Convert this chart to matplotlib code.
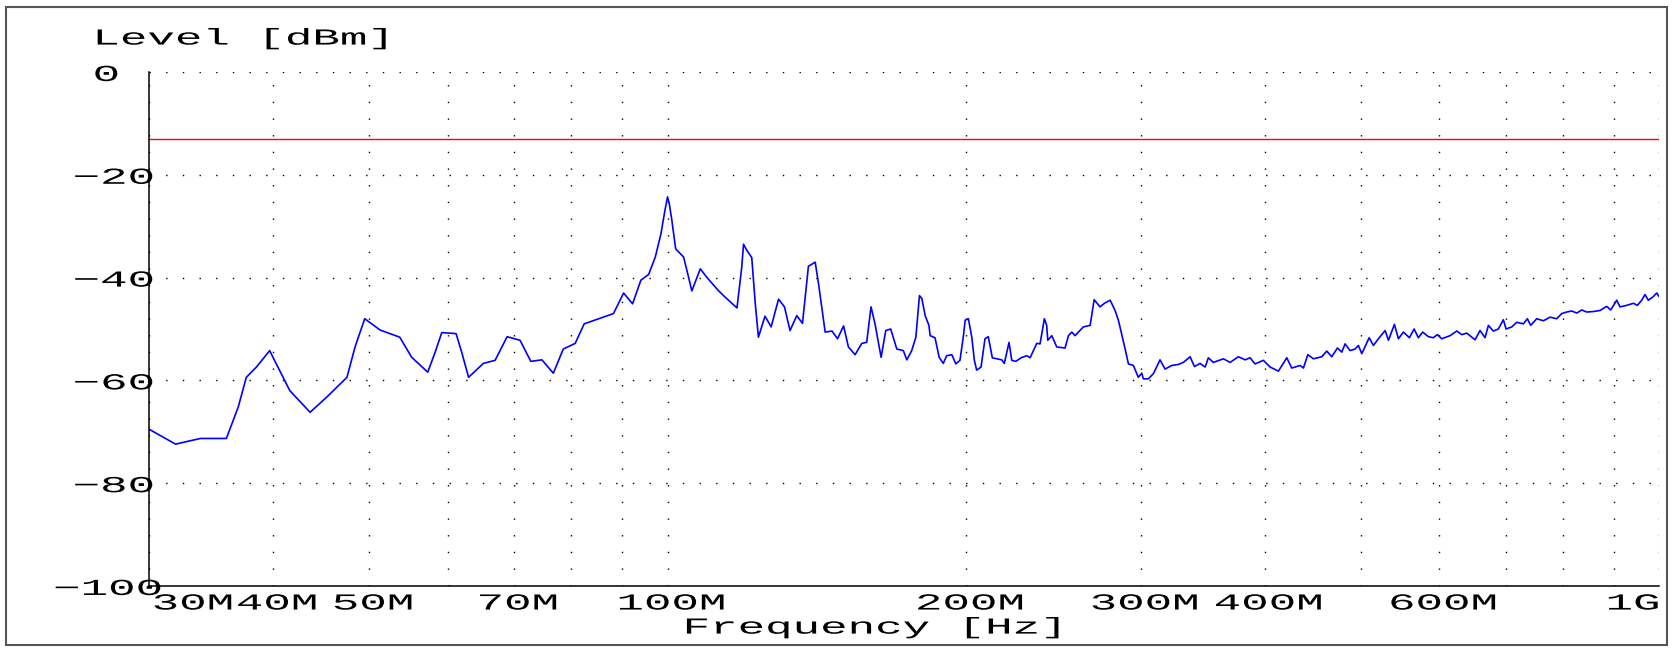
import matplotlib
matplotlib.use('Agg')
import matplotlib.pyplot as plt
import matplotlib.patheffects as pe
from matplotlib.patches import Rectangle
from matplotlib.ticker import FixedLocator, NullFormatter
from matplotlib.transforms import Affine2D

# Spectrum trace (frequency in MHz, level in dBm)
freq_mhz = [
    30.0, 31.9, 33.8, 35.9, 36.9, 37.6, 38.5, 39.7, 40.0, 41.6,
    43.6, 45.3, 47.5, 48.4, 49.5, 51.3, 53.7, 55.2, 57.3, 58.3,
    59.2, 61.2, 62.0, 63.0, 65.2, 67.0, 68.9, 71.0, 72.8, 74.7,
    76.7, 78.5, 80.7, 82.4, 88.2, 90.3, 92.2, 94.0, 95.7, 97.2,
    98.5, 99.4, 100.0, 100.4, 101.0, 101.9, 103.8, 105.0, 105.8, 107.9,
    109.5, 112.5, 114.3, 117.5, 118.8, 119.3, 120.2, 121.6, 122.6, 123.5,
    125.4, 127.2, 129.4, 131.2, 132.9, 135.0, 136.8, 138.7, 140.9, 142.0,
    144.2, 146.5, 148.4, 150.5, 152.2, 154.6, 157.0, 158.8, 160.4, 161.9,
    164.2, 166.0, 167.9, 170.3, 172.9, 174.3, 176.3, 178.0, 179.5, 180.5,
    181.9, 183.5, 184.0, 186.1, 187.9, 189.7, 191.2, 193.5, 195.3, 197.2,
    198.8, 199.6, 201.1, 202.7, 203.9, 205.0, 207.1, 209.0, 210.6, 212.6,
    214.8, 217.3, 218.6, 221.0, 222.4, 224.5, 227.3, 230.3, 232.1, 235.7,
    237.5, 239.9, 241.2, 241.8, 244.1, 246.9, 251.7, 253.7, 255.7, 257.6,
    262.6, 266.8, 269.3, 273.0, 275.8, 279.5, 282.7, 284.9, 289.4, 291.6,
    295.0, 298.4, 300.8, 301.9, 305.4, 309.0, 313.8, 317.5, 322.5, 327.5,
    331.3, 336.5, 339.9, 344.4, 348.5, 351.1, 355.2, 363.6, 369.3, 376.4,
    382.4, 386.8, 391.3, 398.9, 405.2, 413.1, 421.2, 426.1, 434.5, 437.8,
    442.3, 448.1, 456.9, 462.2, 467.6, 473.8, 478.6, 482.3, 487.9, 493.6,
    497.4, 501.4, 510.0, 515.1, 521.1, 529.3, 533.4, 540.8, 545.9, 552.2,
    560.0, 566.1, 571.8, 577.6, 585.2, 592.0, 597.5, 603.7, 615.4, 625.1,
    632.4, 639.8, 652.2, 659.8, 667.5, 672.7, 680.5, 688.5, 696.5, 700.9,
    710.2, 718.5, 729.6, 736.4, 742.2, 752.6, 764.3, 776.3, 788.4, 797.6,
    806.9, 816.4, 825.9, 835.5, 845.3, 858.3, 871.8, 885.5, 893.7, 906.3,
    913.2, 927.6, 941.9, 950.7, 960.4, 967.8, 975.3, 985.3, 994.5, 1000.0,
]
level_dbm = [
    -69.5, -72.4, -71.3, -71.3, -65.2, -59.4, -57.4, -54.2, -55.5, -62.0,
    -66.2, -63.3, -59.4, -53.5, -48.0, -50.2, -51.6, -55.5, -58.4, -54.5,
    -50.7, -50.9, -54.5, -59.4, -56.7, -56.1, -51.5, -52.2, -56.3, -56.0,
    -58.6, -53.9, -52.8, -49.0, -47.0, -43.0, -45.1, -40.5, -39.4, -36.0,
    -31.4, -26.9, -24.3, -25.6, -28.8, -34.4, -36.0, -39.9, -42.6, -38.3,
    -39.9, -42.5, -43.8, -45.9, -38.0, -33.5, -34.7, -36.1, -45.1, -51.6,
    -47.5, -49.6, -44.2, -45.7, -50.3, -47.4, -48.9, -37.8, -37.0, -41.2,
    -50.6, -50.4, -51.9, -49.4, -53.5, -55.0, -52.8, -52.6, -45.7, -49.0,
    -55.5, -50.3, -50.0, -53.9, -54.2, -56.0, -54.2, -51.6, -43.5, -44.1,
    -47.4, -49.3, -51.3, -51.7, -55.5, -56.7, -55.2, -55.0, -56.8, -56.1,
    -51.3, -48.3, -48.0, -51.6, -56.1, -58.0, -57.4, -51.9, -51.5, -55.6,
    -55.8, -56.0, -56.7, -52.6, -56.1, -56.3, -55.6, -55.2, -55.6, -52.8,
    -52.9, -48.0, -49.3, -52.2, -51.3, -53.5, -53.7, -51.3, -50.6, -51.3,
    -49.6, -49.3, -44.3, -45.7, -45.0, -44.4, -46.4, -48.3, -53.9, -56.8,
    -57.1, -59.4, -58.6, -59.7, -59.7, -58.7, -56.0, -57.8, -57.1, -56.9,
    -56.5, -55.4, -57.3, -56.7, -57.4, -55.6, -56.5, -55.8, -56.5, -55.4,
    -56.0, -55.6, -56.8, -56.1, -57.4, -58.2, -55.6, -57.6, -57.1, -57.6,
    -55.0, -55.8, -55.4, -54.3, -55.4, -53.7, -54.5, -52.9, -54.2, -53.9,
    -53.2, -54.8, -51.7, -53.2, -51.9, -50.3, -52.2, -49.1, -51.9, -50.6,
    -51.7, -50.0, -51.7, -50.6, -51.5, -51.7, -51.1, -51.9, -51.3, -50.4,
    -51.1, -50.8, -52.1, -50.3, -51.7, -49.3, -50.4, -50.0, -48.2, -50.0,
    -49.6, -48.7, -49.0, -48.0, -49.3, -48.0, -48.4, -47.7, -48.0, -47.0,
    -46.7, -46.5, -46.9, -46.3, -46.7, -46.6, -46.4, -45.6, -46.3, -44.4,
    -45.7, -45.4, -45.0, -45.4, -44.4, -43.3, -44.4, -43.8, -43.0, -43.7,
]
limit_dbm = -13

xtick_mhz = [30, 40, 50, 70, 100, 200, 300, 400, 600, 1000]
xtick_labels = ['30M', '40M', '50M', '70M', '100M', '200M', '300M', '400M', '600M', '1G']
xgrid_mhz = [40, 50, 60, 70, 80, 90, 100, 200, 300, 400, 500, 600, 700, 800, 900, 1000]
ytick_db = [0, -20, -40, -60, -80, -100]
ytick_labels = ['0', '\u221220', '\u221240', '\u221260', '\u221280', '\u2212100']


class Stretch(pe.AbstractPathEffect):
    """Draw a text wider than the font itself, like the plotter font of the analyser."""

    def __init__(self, sx=2.0, anchor=0.5, dx=0.0):
        super().__init__()
        self.sx = sx
        self.anchor = anchor
        self.dx = dx

    def draw_path(self, renderer, gc, tpath, affine, rgbFace=None):
        ext = tpath.get_extents()
        x0 = ext.x0 + self.anchor * ext.width
        stretch = Affine2D().translate(-x0, 0).scale(self.sx, 1).translate(x0, 0)
        shift = Affine2D().translate(self.dx, 0)
        renderer.draw_path(gc, tpath, stretch + affine + shift, rgbFace)


FONT = ['Liberation Mono', 'DejaVu Sans Mono']
SIZE = 16.5
SX = 2.0

fig = plt.figure(figsize=(16.73, 6.48), dpi=100)
ax = fig.add_axes([0.0891, 0.0957, 0.9026, 0.7932])

ax.plot([f * 1e6 for f in freq_mhz], level_dbm, color='#0000ff', lw=1.2)
ax.axhline(limit_dbm, color='#ff0000', lw=1.0)

ax.set_xscale('log')
ax.set_xlim(30e6, 1e9)
ax.set_ylim(-100, 0)

# labelled ticks, dotted grid on every decade step
ax.xaxis.set_major_locator(FixedLocator([f * 1e6 for f in xtick_mhz]))
ax.set_xticklabels(xtick_labels)
ax.xaxis.set_minor_locator(FixedLocator([f * 1e6 for f in xgrid_mhz]))
ax.xaxis.set_minor_formatter(NullFormatter())
ax.set_yticks(ytick_db)
ax.set_yticklabels(ytick_labels)

dots = (0, (1, 11))
ax.grid(True, axis='x', which='both', color='black', linestyle=dots, lw=1.0)
ax.grid(True, axis='y', which='major', color='black', linestyle=dots, lw=1.0)
ax.tick_params(which='both', length=0)
ax.tick_params(axis='x', pad=4)
ax.tick_params(axis='y', pad=1)

for side in ['top', 'right']:
    ax.spines[side].set_visible(False)
for side in ['left', 'bottom']:
    ax.spines[side].set_color('black')
    ax.spines[side].set_linewidth(1.1)
    ax.spines[side].set_zorder(3)

labels = ax.get_xticklabels()
for i, lab in enumerate(labels):
    lab.set_fontfamily(FONT)
    lab.set_fontsize(SIZE)
    if i == 0:
        lab.set_ha('left')
        lab.set_path_effects([Stretch(SX, 0.0, 4)])
    elif i == len(labels) - 1:
        lab.set_ha('right')
        lab.set_path_effects([Stretch(SX, 1.0, 0)])
    else:
        lab.set_path_effects([Stretch(SX, 0.5, 4)])

ylab_shift = [-29, 6, 6, 6, 6, 14]
for lab, dx in zip(ax.get_yticklabels(), ylab_shift):
    lab.set_fontfamily(FONT)
    lab.set_fontsize(SIZE)
    lab.set_path_effects([Stretch(SX, 1.0, dx)])

ax.set_xlabel('Frequency [Hz]', family=FONT, fontsize=SIZE, va='center')
ax.xaxis.set_label_coords(0.48, -0.080)
ax.xaxis.label.set_path_effects([Stretch(SX, 0.5, 0)])

ax.set_ylabel('Level [dBm]', family=FONT, fontsize=SIZE, rotation=0, ha='left', va='center')
ax.yaxis.set_label_coords(-0.0358, 1.066)
ax.yaxis.label.set_path_effects([Stretch(SX, 0.0, 0)])

# grey frame round the whole printout
fig.patches.append(Rectangle((6 / 1673, 3 / 648), 1661 / 1673, 638 / 648,
                             transform=fig.transFigure, fill=False,
                             edgecolor='#555555', lw=1.5))

plt.savefig('out.png', dpi=100)
